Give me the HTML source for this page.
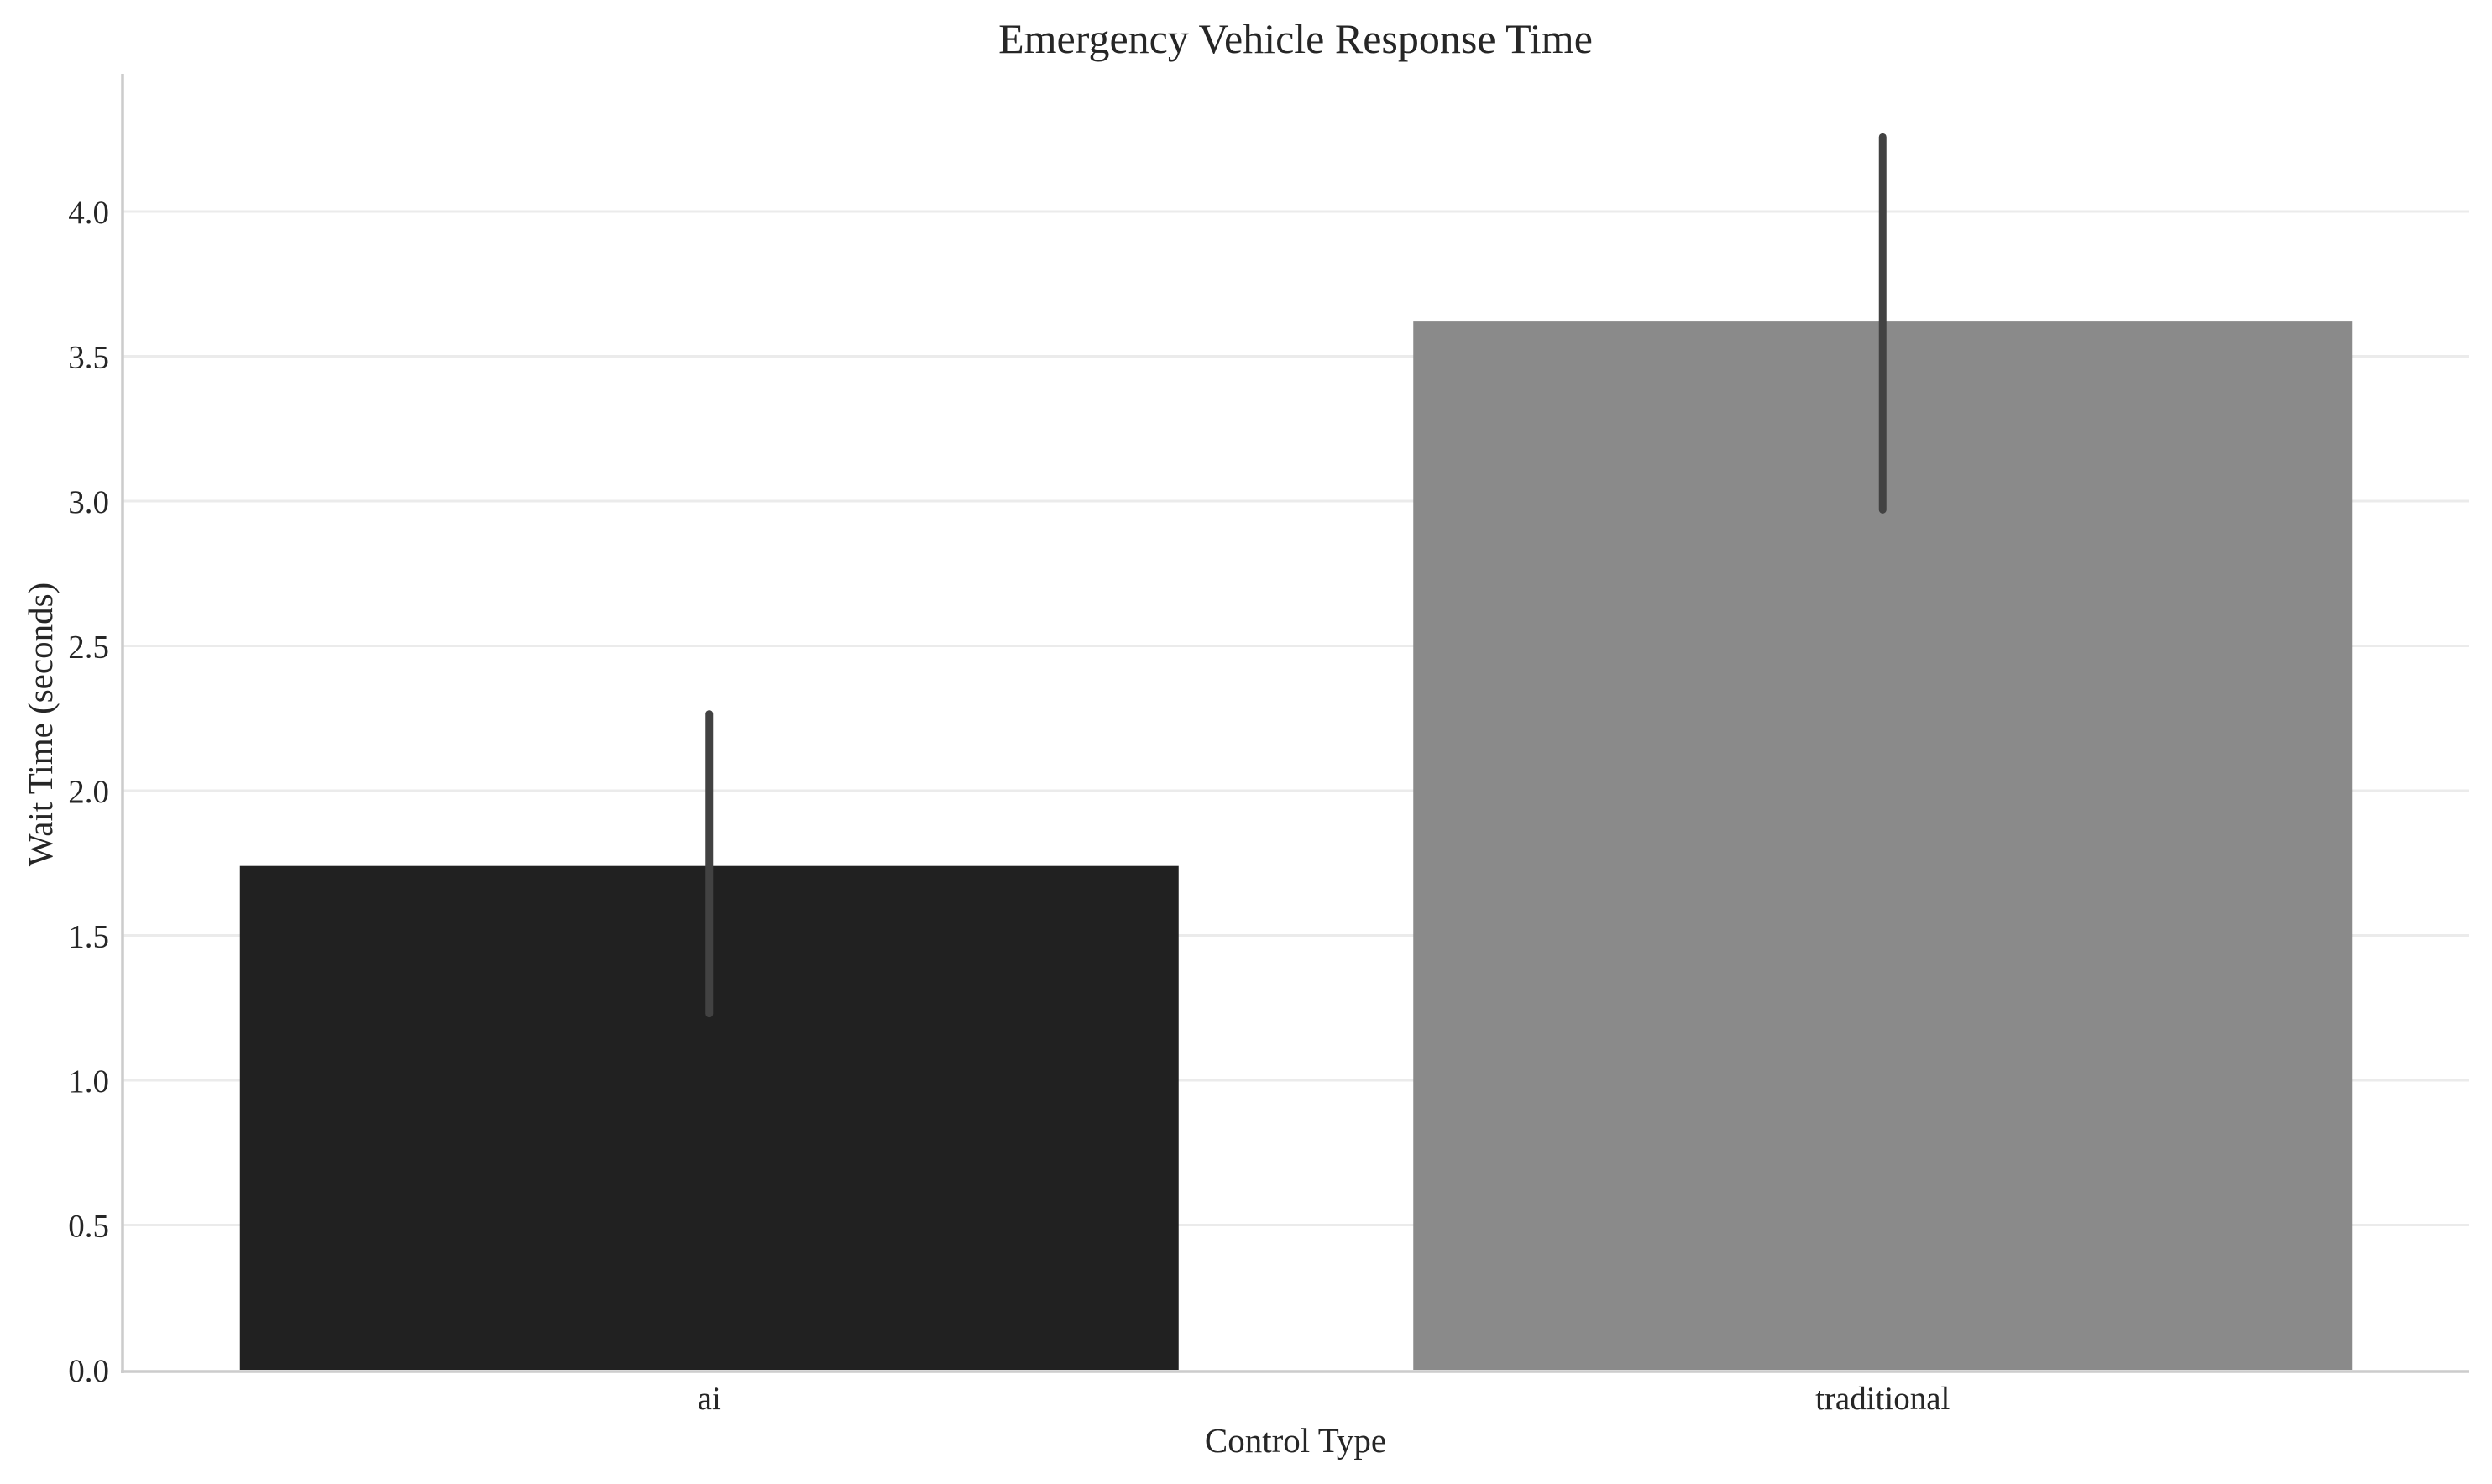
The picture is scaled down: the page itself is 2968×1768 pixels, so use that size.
<!DOCTYPE html>
<html><head><meta charset="utf-8"><style>
html,body{margin:0;padding:0;background:#fff;}
svg{display:block;font-family:"Liberation Serif","Times New Roman",serif;}
</style></head><body>
<svg id="chart" width="2968" height="1768" viewBox="0 0 2968 1768" xmlns="http://www.w3.org/2000/svg">
<rect x="0" y="0" width="2968" height="1768" fill="#fff"/>
<g id="grid"></g>
<g id="bars"></g>
<g id="errs"></g>
<line x1="146" y1="88" x2="146" y2="1636" stroke="#cccccc" stroke-width="3.5"/>
<line x1="144" y1="1634" x2="2941" y2="1634" stroke="#cccccc" stroke-width="3.5"/>
<g id="yticks"></g>
<g id="xticks"></g>
<text x="1543" y="63" text-anchor="middle" font-size="50" fill="#262626">Emergency Vehicle Response Time</text>
<text x="1543" y="1730" text-anchor="middle" font-size="41" fill="#262626">Control Type</text>
<text x="62" y="863" text-anchor="middle" font-size="41" fill="#262626" transform="rotate(-90 62 863)">Wait Time (seconds)</text>
</svg>
<script>
const categories = ["ai", "traditional"];
const means = [1.74, 3.62];
const ciLow = [1.23, 2.97];
const ciHigh = [2.265, 4.257];
const yTicks = [0, 0.5, 1, 1.5, 2, 2.5, 3, 3.5, 4];
const yTickLabels = ["0.0","0.5","1.0","1.5","2.0","2.5","3.0","3.5","4.0"];

const NS = "http://www.w3.org/2000/svg";
const X0 = 146, X1 = 2941, Y0 = 1632, PX = 345;
const band = (X1 - X0) / categories.length;
function yScale(v){ return Y0 - v * PX; }
function xCenter(i){ return X0 + (i + 0.5) * band; }
function mk(tag, attrs, parent){ const e = document.createElementNS(NS, tag); for (const k in attrs) e.setAttribute(k, attrs[k]); parent.appendChild(e); return e; }
const colors = ["#212121", "#8a8a8a"];

const grid = document.getElementById("grid");
const yt = document.getElementById("yticks");
yTicks.forEach((t, i) => {
  if (t > 0) {
    const l = mk("line", {x1: X0, x2: X1, y1: yScale(t), y2: yScale(t), stroke: "#ebebeb", "stroke-width": 3}, grid);
    
    
  }
  const tx = mk("text", {x: 130, y: yScale(t) + 14, "text-anchor": "end", "font-size": 39, fill: "#262626"}, yt);
  tx.textContent = yTickLabels[i];
  
  
});

const bars = document.getElementById("bars");
const errs = document.getElementById("errs");
const xt = document.getElementById("xticks");
const bw = band * 0.8;
categories.forEach((c, i) => {
  const r = mk("rect", {x: xCenter(i) - bw/2, y: yScale(means[i]), width: bw, height: Y0 - yScale(means[i]), fill: colors[i]}, bars);
  
  
  const e = mk("line", {x1: xCenter(i), x2: xCenter(i), y1: yScale(ciLow[i]), y2: yScale(ciHigh[i]), stroke: "#424242", "stroke-width": 9, "stroke-linecap": "round"}, errs);
  
  
  const t = mk("text", {x: xCenter(i), y: 1679, "text-anchor": "middle", "font-size": 39, fill: "#262626"}, xt);
  t.textContent = c;
  
  
});
</script>
</body></html>
